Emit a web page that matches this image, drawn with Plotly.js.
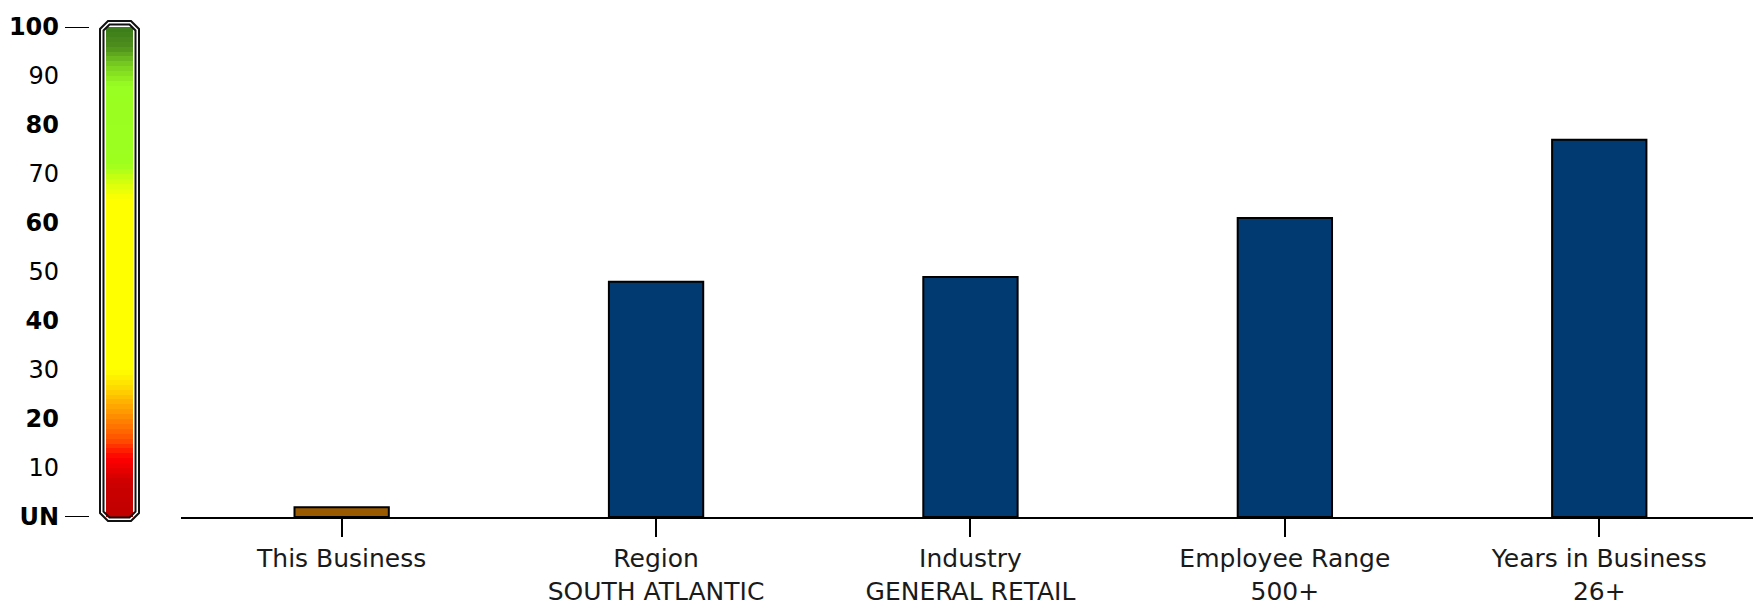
<!DOCTYPE html>
<html>
<head>
<meta charset="utf-8">
<script src="https://cdn.plot.ly/plotly-3.0.1.min.js"></script>
<style>
  html, body { margin: 0; padding: 0; background: #ffffff; }
  #chart { width: 1753px; height: 614px; }
</style>
</head>
<body>
<div id="chart"></div>
<script>
// ---- Data ----
const categories = ["This Business", "Region", "Industry", "Employee Range", "Years in Business"];
const subLabels  = ["", "SOUTH ATLANTIC", "GENERAL RETAIL", "500+", "26+"];
const values     = [2, 48, 49, 61, 77];
const barColors  = ["#9a5b00", "#003a70", "#003a70", "#003a70", "#003a70"];

// gauge scale labels (0 shown as "UN")
const gaugeTickVals  = [0, 10, 20, 30, 40, 50, 60, 70, 80, 90, 100];
const gaugeTickText  = ["<b>UN</b>", "10", "<b>20</b>", "30", "<b>40</b>", "50", "<b>60</b>", "70", "<b>80</b>", "90", "<b>100</b>"];

// ---- Geometry helpers (decoration only) ----
const W = 1753, H = 614;
const M = { l: 0, r: 0, t: 27, b: 97 };
const plotH = H - M.t - M.b;
const px = x => x / W;
const py = y => (H - M.b - y) / plotH;

const tickText = categories.map((c, i) => subLabels[i] ? c + "<br>" + subLabels[i] : c);

// gauge colour ramp
const gaugeLevels = [];
for (let v = 0.5; v < 100; v += 1) gaugeLevels.push(v);
const gaugeScale = [
  [0.00, "#c00000"], [0.07, "#cc0000"], [0.12, "#ff0000"], [0.16, "#ff5200"],
  [0.22, "#ffa000"], [0.27, "#ffe000"], [0.30, "#ffff00"], [0.65, "#ffff00"],
  [0.69, "#ccff10"], [0.72, "#9cff1e"], [0.88, "#99ff22"], [0.92, "#7ad020"],
  [0.96, "#4f8f1c"], [1.00, "#3a7a1a"]
];

const bars = {
  type: "bar",
  x: categories,
  y: values,
  xaxis: "x",
  yaxis: "y",
  marker: { color: barColors, line: { color: "#000000", width: 2 } },
  hoverinfo: "x+y",
  showlegend: false
};

const gauge = {
  type: "heatmap",
  x: [0],
  y: gaugeLevels,
  z: gaugeLevels.map(v => [v]),
  zmin: 0, zmax: 100,
  colorscale: gaugeScale,
  showscale: false,
  xaxis: "x2",
  yaxis: "y",
  hoverinfo: "skip"
};

function octagon(x0, x1, y0, y1, c) {
  return "M" + px(x0 + c) + "," + py(y0) +
         " L" + px(x1 - c) + "," + py(y0) +
         " L" + px(x1) + "," + py(y0 + c) +
         " L" + px(x1) + "," + py(y1 - c) +
         " L" + px(x1 - c) + "," + py(y1) +
         " L" + px(x0 + c) + "," + py(y1) +
         " L" + px(x0) + "," + py(y1 - c) +
         " L" + px(x0) + "," + py(y0 + c) + " Z";
}

const shapes = [
  { type: "path", xref: "paper", yref: "paper", path: octagon(100, 139, 21, 521, 8),
    line: { color: "#111111", width: 2 } },
  { type: "path", xref: "paper", yref: "paper", path: octagon(103.5, 135.5, 24.5, 517.5, 6),
    line: { color: "#111111", width: 2 } },
  // dashes next to 100 and UN
  { type: "line", xref: "paper", yref: "y", x0: px(65), x1: px(89), y0: 100, y1: 100,
    line: { color: "#000000", width: 2 } },
  { type: "line", xref: "paper", yref: "y", x0: px(65), x1: px(89), y0: 0, y1: 0,
    line: { color: "#000000", width: 2 } }
];

const layout = {
  width: W, height: H,
  margin: M,
  paper_bgcolor: "#ffffff",
  plot_bgcolor: "rgba(0,0,0,0)",
  bargap: 0.7,
  showlegend: false,
  xaxis: {
    domain: [px(181), 1],
    range: [-0.511, 4.489],
    type: "category",
    showgrid: false, zeroline: false,
    showline: true, linecolor: "#000000", linewidth: 2,
    ticks: "outside", ticklen: 18, tickwidth: 2, tickcolor: "#000000",
    tickvals: categories, ticktext: tickText,
    tickfont: { family: "DejaVu Sans, sans-serif", size: 25, color: "#1a1a1a" },
    fixedrange: true
  },
  xaxis2: {
    domain: [px(106), px(133)],
    range: [-0.5, 0.5],
    anchor: "y",
    visible: false,
    fixedrange: true
  },
  yaxis: {
    range: [0, 100],
    anchor: "free",
    position: px(59),
    showgrid: false, zeroline: false, showline: false,
    ticks: "",
    tickvals: gaugeTickVals, ticktext: gaugeTickText,
    tickfont: { family: "DejaVu Sans, sans-serif", size: 24, color: "#000000" },
    fixedrange: true
  },
  shapes: shapes
};

Plotly.newPlot("chart", [gauge, bars], layout, { displayModeBar: false, staticPlot: true });
</script>
</body>
</html>
